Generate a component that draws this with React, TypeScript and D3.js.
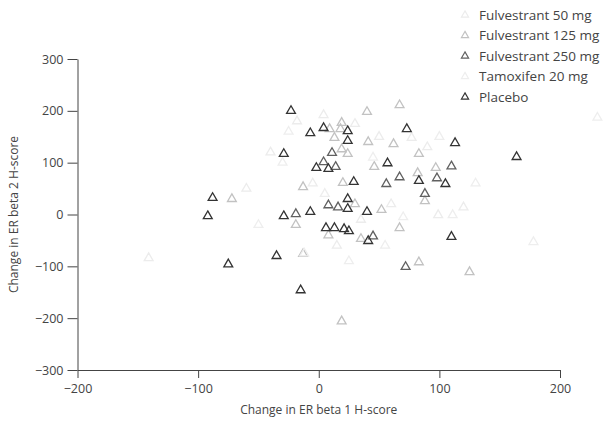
import React, { useRef, useEffect } from "react";
import * as d3 from "d3";

// [change in ER beta 1, change in ER beta 2] per patient
const fulv50: [number, number][] = [
  [-141, -84], [-18, 180], [4, 192], [77, 148], [120, 14], [99, -1],
  [-40, 120], [30, 175], [50, 150], [-5, 60], [35, -10], [60, 20],
  [15, -60], [90, 130], [-60, 50],
];
const fulv125: [number, number][] = [
  [-72, 30], [-13, -76], [-19, -20], [8, -40], [35, -47], [67, -26],
  [52, 9], [19, -206], [-13, 53], [20, 61], [40, 198], [67, 211],
  [9, 165], [19, 177], [18, 165], [13, 148], [41, 140], [62, 136],
  [83, 117], [19, 126], [24, 117], [46, 92], [82, 80], [97, 90],
  [88, 26], [125, -111], [83, -92], [30, 20],
];
const fulv250: [number, number][] = [
  [-19, 1], [8, 18], [16, 14], [45, -42], [72, -101], [11, 119],
  [4, 101], [14, 92], [67, 72], [110, 93], [98, 70], [88, 40],
  [56, 59],
];
const tamox20: [number, number][] = [
  [178, -53], [111, -1], [231, 187], [-12, -75], [-30, 100], [45, 110],
  [70, -5], [25, -90], [100, 150], [-50, -20], [5, 40], [55, -60],
  [130, 60], [-25, 160],
];
const placebo: [number, number][] = [
  [-23, 200], [-29, 117], [-88, 32], [-92, -3], [-75, -96], [-35, -80],
  [-15, -146], [-29, -3], [-7, 5], [24, 30], [24, 11], [40, 5],
  [6, -26], [13, -26], [21, -28], [25, -32], [41, -51], [-7, 157],
  [4, 167], [24, 161], [24, 142], [-2, 90], [8, 88], [29, 63],
  [57, 99], [73, 165], [113, 138], [164, 111], [83, 65], [105, 59],
  [110, -43],
];

const seriesNames = [
  "Fulvestrant 50 mg",
  "Fulvestrant 125 mg",
  "Fulvestrant 250 mg",
  "Tamoxifen 20 mg",
  "Placebo",
];
const seriesData = [fulv50, fulv125, fulv250, tamox20, placebo];
const seriesColors = ["#ececec", "#c2c2c2", "#606060", "#eeeeee", "#333333"];

const xTicks = [-200, -100, 0, 100, 200];
const yTicks = [-300, -200, -100, 0, 100, 200, 300];

const App: React.FC = () => {
  const ref = useRef<SVGSVGElement | null>(null);

  useEffect(() => {
    const width = 606;
    const height = 423;
    const font = "'Open Sans', 'DejaVu Sans', sans-serif";
    const ink = "#444";

    const svg = d3.select(ref.current);
    svg.selectAll("*").remove();
    svg.attr("width", width).attr("height", height);

    const x = d3.scaleLinear().domain([-200, 200]).range([77.5, 560]);
    const y = d3.scaleLinear().domain([-300, 300]).range([370, 59]);

    // Axes
    const xAxis = svg
      .append("g")
      .attr("transform", `translate(0,${y(-300)})`)
      .call(
        d3
          .axisBottom(x)
          .tickValues(xTicks)
          .tickSize(8)
          .tickPadding(6)
          .tickSizeOuter(0) as any
      );
    const yAxis = svg
      .append("g")
      .attr("transform", `translate(${x(-200)},0)`)
      .call(
        d3
          .axisLeft(y)
          .tickValues(yTicks)
          .tickSize(10)
          .tickPadding(4)
          .tickSizeOuter(0) as any
      );
    [xAxis, yAxis].forEach((g) => {
      g.selectAll("path").attr("stroke", "#444").attr("stroke-width", 1);
      g.selectAll("line").attr("stroke", "#444").attr("stroke-width", 1);
      g.selectAll("text")
        .attr("fill", ink)
        .style("font-family", font)
        .style("font-size", "12.5px");
    });

    // Axis labels
    svg
      .append("text")
      .attr("x", x(0))
      .attr("y", 414)
      .attr("text-anchor", "middle")
      .attr("fill", ink)
      .style("font-family", font)
      .style("font-size", "12px")
      .text("Change in ER beta 1 H-score");
    svg
      .append("text")
      .attr("transform", `translate(18,${y(0)}) rotate(-90)`)
      .attr("text-anchor", "middle")
      .attr("fill", ink)
      .style("font-family", font)
      .style("font-size", "12px")
      .text("Change in ER beta 2 H-score");

    const tri = d3.symbol().type(d3.symbolTriangle).size(34);

    // Points
    seriesData.forEach((pts, i) => {
      svg
        .append("g")
        .selectAll("path")
        .data(pts)
        .enter()
        .append("path")
        .attr("transform", (d) => `translate(${x(d[0])},${y(d[1])})`)
        .attr("d", tri as any)
        .attr("fill", "none")
        .attr("stroke", seriesColors[i])
        .attr("stroke-width", 1.3);
    });

    // Legend
    const legend = svg
      .selectAll(".legend")
      .data(seriesNames)
      .enter()
      .append("g")
      .attr("class", "legend")
      .attr("transform", (d, i) => `translate(465,${15 + i * 20.5})`);
    legend
      .append("path")
      .attr("d", d3.symbol().type(d3.symbolTriangle).size(22) as any)
      .attr("fill", "none")
      .attr("stroke", (d, i) => seriesColors[i])
      .attr("stroke-width", 1.2);
    legend
      .append("text")
      .attr("x", 14)
      .attr("y", 4.5)
      .attr("fill", ink)
      .style("font-family", font)
      .style("font-size", "13.5px")
      .text((d) => d);
  }, []);

  return (
    <div style={{ position: "absolute", left: 0, top: 0 }}>
      <svg ref={ref} style={{ display: "block", background: "#fff" }} />
    </div>
  );
};

export default App;
